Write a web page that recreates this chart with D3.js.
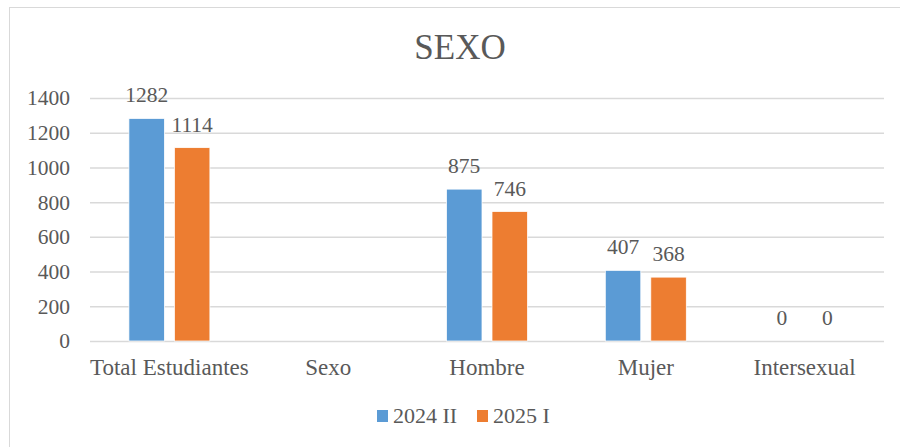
<!DOCTYPE html>
<html>
<head>
<meta charset="utf-8">
<script src="https://cdn.jsdelivr.net/npm/d3@7"></script>
<style>
  body { margin:0; background:#fff; }
  svg text { font-family:'Liberation Serif','Times New Roman','DejaVu Serif',serif; fill:#595959; }
</style>
</head>
<body>
<div id="canvas"></div>
<script>
// data
var categories = ['Total Estudiantes','Sexo','Hombre','Mujer','Intersexual'];
var seriesNames = ['2024 II','2025 I'];
var values2024 = [1282, null, 875, 407, 0];
var values2025 = [1114, null, 746, 368, 0];
var yTicks = [0,200,400,600,800,1000,1200,1400];
var colors = ['#5B9BD5','#ED7D31'];

var FONT = "'Liberation Serif','Times New Roman','DejaVu Serif',serif";
var W = 900, H = 447;
var m = {t:98, r:16, b:106, l:90};
var w = W - m.l - m.r,
    h = H - m.t - m.b;

var svg = d3.select('#canvas')
    .append('svg')
    .attr('width',W)
    .attr('height',H)
    .attr('font-family',FONT);

// chart border
svg.append('rect')
    .attr('x',9.5).attr('y',7.5)
    .attr('width',W - 9).attr('height',H)
    .attr('fill','none')
    .attr('stroke','#d9d9d9')
    .attr('stroke-width',1);

svg.append('text')
    .attr('x',460).attr('y',59)
    .attr('text-anchor','middle')
    .style('font-size','35px')
    .text('SEXO');

var plot = svg.append('g')
    .attr('transform','translate(' + m.l + ',' + m.t + ')');

var scaleX = d3.scaleBand()
    .domain(categories)
    .range([0,w]);

var scaleInner = d3.scaleBand()
    .domain(seriesNames)
    .range([0,scaleX.bandwidth()])
    .paddingInner(0.22)
    .paddingOuter(0.855);

var scaleY = d3.scaleLinear()
    .domain([0,1400])
    .range([h,0]);

// gridlines + y labels
var axisY = d3.axisLeft(scaleY)
    .tickValues(yTicks)
    .tickFormat(d3.format('d'))
    .tickSize(-w)
    .tickPadding(20);
var gy = plot.append('g').call(axisY).attr('font-family',FONT);
gy.select('.domain').remove();
gy.selectAll('line').attr('stroke','#d9d9d9').attr('stroke-width',1.5);
gy.selectAll('text').style('font-size','21.5px').attr('fill','#595959');

var axisX = d3.axisBottom(scaleX)
    .tickSize(0)
    .tickPadding(18);
var gx = plot.append('g')
    .attr('transform','translate(0,' + h + ')')
    .call(axisX)
    .attr('font-family',FONT);
gx.select('.domain').remove();
gx.selectAll('text').style('font-size','23px').attr('fill','#595959');

var rows = [];
categories.forEach(function(c,i){
    if (values2024[i] !== null) rows.push({cat:c, s:seriesNames[0], v:values2024[i], k:0});
    if (values2025[i] !== null) rows.push({cat:c, s:seriesNames[1], v:values2025[i], k:1});
});

plot.selectAll('rect.bar')
    .data(rows)
    .enter()
    .append('rect')
    .attr('class','bar')
    .attr('x',function(d){return scaleX(d.cat) + scaleInner(d.s)})
    .attr('y',function(d){return scaleY(d.v)})
    .attr('width',scaleInner.bandwidth())
    .attr('height',function(d){return h - scaleY(d.v)})
    .attr('fill',function(d){return colors[d.k]})
    .attr('stroke','#fff')
    .attr('stroke-width',0.75);

plot.selectAll('text.lbl')
    .data(rows)
    .enter()
    .append('text')
    .attr('class','lbl')
    .attr('x',function(d){return scaleX(d.cat) + scaleInner(d.s) + scaleInner.bandwidth()/2})
    .attr('y',function(d){return scaleY(d.v) - 16})
    .attr('text-anchor','middle')
    .style('font-size','21.5px')
    .text(function(d){return d.v});

// legend
var legend = svg.append('g').attr('transform','translate(377,410)');
var lx = [0,100];
seriesNames.forEach(function(s,i){
    var g = legend.append('g').attr('transform','translate(' + lx[i] + ',0)');
    g.append('rect').attr('width',11).attr('height',12).attr('fill',colors[i]);
    g.append('text').attr('x',16).attr('y',13).style('font-size','22px').text(s);
});
</script>
</body>
</html>
